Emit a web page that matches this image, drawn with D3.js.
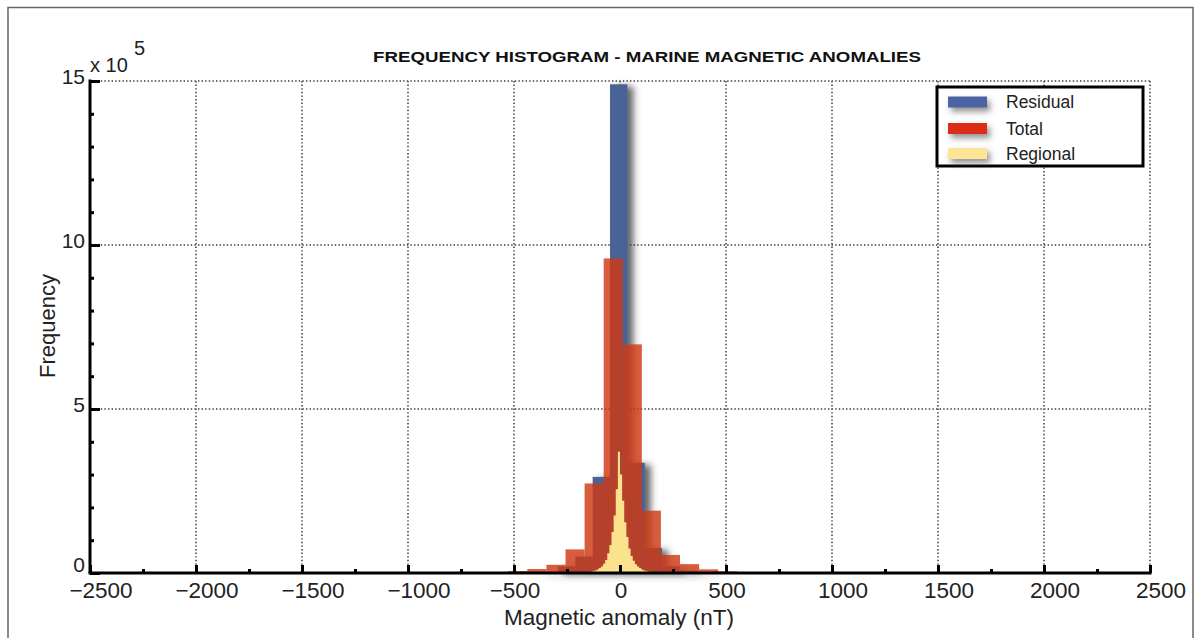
<!DOCTYPE html>
<html><head><meta charset="utf-8">
<script src="https://cdn.jsdelivr.net/npm/d3@7"></script>
<style>
html,body{margin:0;padding:0;background:#fff;}
svg{display:block;font-family:"Liberation Sans",Arial,sans-serif;}
</style></head>
<body>
<svg id="chart" width="1197" height="638"></svg>
<script>
// ---- data (frequencies in units of 10^5) ----
const xTicks = [-2500,-2000,-1500,-1000,-500,0,500,1000,1500,2000,2500];
const xMinorTicks = [-2250,-1750,-1250,-750,-250,250,750,1250,1750,2250];
const yTicks = [0,5,10,15];
const yMinorTicks = [1,2,3,4,6,7,8,9,11,12,13,14];

// Residual: bin left edges (nT), bin width 82 nT
const residualStart = [-375,-293,-211,-129,-47,35,117,199,281,363];
const residualWidth = 82;
const residualCounts = [0.03,0.2,0.5,2.93,14.9,3.36,0.76,0.2,0.07,0.02];

// Total: bin left edges (nT), bin width 90 nT
const totalStart = [-797,-707,-617,-527,-437,-347,-257,-167,-77,13,103,193,283,373,463,553];
const totalWidth = 90;
const totalCounts = [0.005,0.01,0.02,0.06,0.12,0.25,0.72,2.73,9.59,6.97,1.90,0.55,0.27,0.11,0.05,0.02];

// Regional: bin centres (nT), bin width 10 nT
const regionalCenters = [-155,-145,-135,-125,-115,-105,-95,-85,-75,-65,-55,-45,-35,-25,-15,-5,5,15,25,35,45,55,65,75,85,95,105,115,125,135,145];
const regionalWidth = 10;
const regionalCounts = [0.02,0.03,0.04,0.06,0.08,0.11,0.15,0.2,0.28,0.4,0.6,0.85,1.25,1.75,2.55,3.7,3.0,2.2,1.55,1.1,0.75,0.52,0.37,0.27,0.2,0.15,0.11,0.08,0.06,0.04,0.03];

const legendItems = ["Residual","Total","Regional"];
const titleText = "FREQUENCY HISTOGRAM - MARINE MAGNETIC ANOMALIES";
const xLabel = "Magnetic anomaly (nT)";
const yLabel = "Frequency";

// ---- drawing ----
const svg = d3.select("#chart");
const x = d3.scaleLinear().domain([-2500,2500]).range([90,1150]);
const y = d3.scaleLinear().domain([0,15]).range([573,81]);

const defs = svg.append("defs");
const f = defs.append("filter").attr("id","shadow").attr("x","-50%").attr("y","-10%").attr("width","250%").attr("height","130%");
f.append("feDropShadow").attr("dx",6).attr("dy",2).attr("stdDeviation",3.5).attr("flood-color","#333").attr("flood-opacity",0.75);
const f2 = defs.append("filter").attr("id","shadow2").attr("x","-30%").attr("y","-50%").attr("width","160%").attr("height","250%");
f2.append("feDropShadow").attr("dx",3).attr("dy",4).attr("stdDeviation",3).attr("flood-color","#444").attr("flood-opacity",0.6);

// outer frame
svg.append("rect").attr("x",8).attr("y",7.5).attr("width",1185).attr("height",640)
  .attr("fill","none").attr("stroke","#666").attr("stroke-width",1.5);

// grid
const grid = svg.append("g").attr("stroke","#6a6a6a").attr("stroke-width",2).attr("stroke-dasharray","1.4,2.2");
grid.selectAll("line.v").data(xTicks.slice(1)).join("line")
  .attr("x1",d=>x(d)).attr("x2",d=>x(d)).attr("y1",y(15)).attr("y2",y(0));
grid.selectAll("line.h").data(yTicks.slice(1)).join("line")
  .attr("x1",x(-2500)).attr("x2",x(2500)).attr("y1",d=>y(d)).attr("y2",d=>y(d));

// residual (blue) with shadow
svg.append("g").attr("filter","url(#shadow)")
  .selectAll("rect").data(residualStart).join("rect")
  .attr("x",d=>x(d)).attr("width",d=>x(d+residualWidth)-x(d))
  .attr("y",(d,i)=>y(residualCounts[i])).attr("height",(d,i)=>y(0)-y(residualCounts[i]))
  .attr("fill","#4a6496");

// total (red, semi transparent)
svg.append("g")
  .selectAll("rect").data(totalStart).join("rect")
  .attr("x",d=>x(d)).attr("width",d=>x(d+totalWidth)-x(d))
  .attr("y",(d,i)=>y(totalCounts[i])).attr("height",(d,i)=>y(0)-y(totalCounts[i]))
  .attr("fill","#cf3813").attr("fill-opacity",0.82);

// regional (yellow) as a stepped area
const regPts = regionalCenters.map((c,i)=>({x0:c-regionalWidth/2, v:regionalCounts[i]}));
regPts.push({x0:regionalCenters[regionalCenters.length-1]+regionalWidth/2, v:regionalCounts[regionalCounts.length-1]});
const regArea = d3.area().curve(d3.curveStepAfter)
  .x(d=>x(d.x0)).y0(y(0)).y1(d=>y(d.v));
svg.append("path").datum(regPts).attr("d",regArea).attr("fill","#fbe28c");

// axes
const xAxisMajor = d3.axisBottom(x).tickValues(xTicks).tickSize(-8).tickFormat("");
const gx = svg.append("g").attr("transform",`translate(0,${y(0)})`).call(xAxisMajor);
gx.select(".domain").remove();
gx.selectAll(".tick line").attr("stroke","#000").attr("stroke-width",3);
const xAxisMinor = d3.axisBottom(x).tickValues(xMinorTicks).tickSize(-4).tickFormat("");
const gxm = svg.append("g").attr("transform",`translate(0,${y(0)})`).call(xAxisMinor);
gxm.select(".domain").remove();
gxm.selectAll(".tick line").attr("stroke","#000").attr("stroke-width",3);

const yAxisMajor = d3.axisLeft(y).tickValues(yTicks).tickSize(-10).tickFormat("");
const gy = svg.append("g").attr("transform",`translate(${x(-2500)},0)`).call(yAxisMajor);
gy.select(".domain").remove();
gy.selectAll(".tick line").attr("stroke","#000").attr("stroke-width",3);
const yAxisMinor = d3.axisLeft(y).tickValues(yMinorTicks).tickSize(-4).tickFormat("");
const gym = svg.append("g").attr("transform",`translate(${x(-2500)},0)`).call(yAxisMinor);
gym.select(".domain").remove();
gym.selectAll(".tick line").attr("stroke","#000").attr("stroke-width",3);

// axis lines
svg.append("line").attr("x1",x(-2500)-1.5).attr("x2",x(2500)+1.5).attr("y1",y(0)).attr("y2",y(0))
  .attr("stroke","#000").attr("stroke-width",3);
svg.append("line").attr("x1",x(-2500)).attr("x2",x(-2500)).attr("y1",y(15)-1.5).attr("y2",y(0))
  .attr("stroke","#000").attr("stroke-width",3);

// tick labels
const fmt = d => (d<0 ? "\u2212" : "") + Math.abs(d);
svg.append("g").selectAll("text").data(xTicks).join("text")
  .attr("x",d=>x(d) + (Math.abs(d)>=1000 ? 11 : 1)).attr("y",598)
  .attr("text-anchor","middle").attr("font-size",22.5).attr("fill","#222").text(fmt);
svg.append("g").selectAll("text").data(yTicks).join("text")
  .attr("x",85).attr("y",d=>y(d)+ (d===0 ? -1 : 3)).attr("text-anchor","end")
  .attr("font-size",21).attr("fill","#222").text(d=>d);

// exponent
svg.append("text").attr("x",90).attr("y",72).attr("font-size",20).attr("fill","#222").text("x 10");
svg.append("text").attr("x",134).attr("y",55).attr("font-size",20).attr("fill","#222").text("5");

// title & labels
svg.append("text").attr("x",647).attr("y",62).attr("text-anchor","middle")
  .attr("font-size",15).attr("font-weight","bold").attr("fill","#111")
  .attr("textLength",548).attr("lengthAdjust","spacingAndGlyphs").text(titleText);
svg.append("text").attr("x",619).attr("y",625).attr("text-anchor","middle")
  .attr("font-size",22.5).attr("fill","#222").text(xLabel);
svg.append("text").attr("transform","translate(55,326) rotate(-90)").attr("text-anchor","middle")
  .attr("font-size",22).attr("fill","#222").text(yLabel);

// legend
const legendColors = ["#4b64a2","#dc2e12","#fce594"];
const lg = svg.append("g");
lg.append("rect").attr("x",937).attr("y",87).attr("width",206).attr("height",79)
  .attr("fill","#fff").attr("stroke","#000").attr("stroke-width",3);
const li = lg.selectAll("g.item").data(legendItems).join("g").attr("class","item")
  .attr("transform",(d,i)=>`translate(0,${[102,128.5,153.5][i]})`);
li.append("rect").attr("x",948).attr("y",-5.5).attr("width",39).attr("height",11)
  .attr("fill",(d,i)=>legendColors[i]).attr("filter","url(#shadow2)");
li.append("text").attr("x",1006).attr("y",6).attr("font-size",17.5).attr("fill","#222").text(d=>d);
</script>
</body></html>
